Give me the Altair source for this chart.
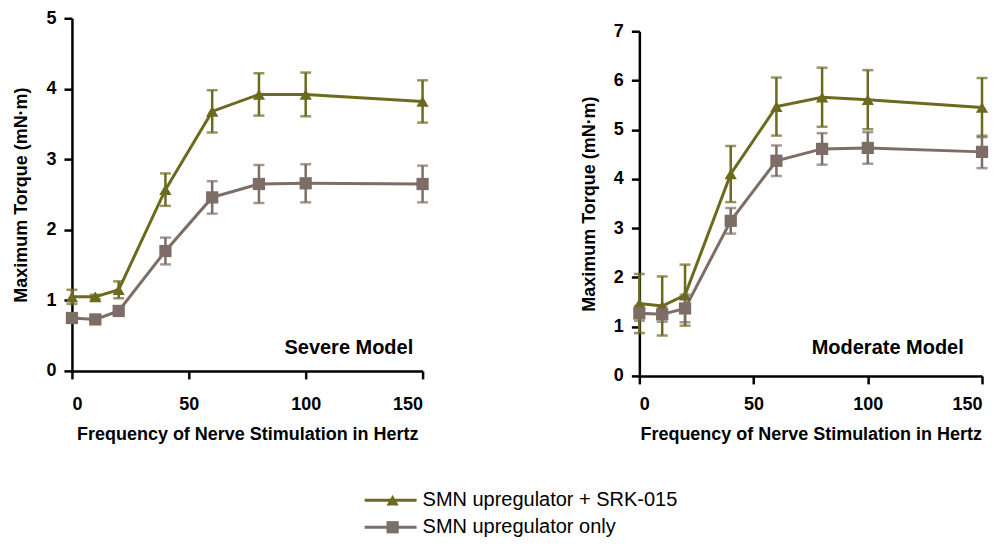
import altair as alt
import pandas as pd

freq = [0, 10, 20, 40, 60, 80, 100, 150]
series = ["SMN upregulator + SRK-015", "SMN upregulator only"]
colors = ["#6b6a1f", "#7d6d67"]
shapes = ["triangle-up", "square"]

severe_combo = [1.05, 1.05, 1.15, 2.57, 3.68, 3.92, 3.92, 3.82]
severe_combo_err = [0.10, 0.03, 0.12, 0.23, 0.30, 0.30, 0.31, 0.30]
severe_only = [0.75, 0.73, 0.85, 1.70, 2.46, 2.65, 2.66, 2.65]
severe_only_err = [0.04, 0.03, 0.06, 0.19, 0.23, 0.27, 0.27, 0.26]

moderate_combo = [1.47, 1.42, 1.64, 4.10, 5.47, 5.66, 5.61, 5.45]
moderate_combo_err = [0.60, 0.60, 0.62, 0.57, 0.59, 0.60, 0.60, 0.60]
moderate_only = [1.27, 1.25, 1.37, 3.15, 4.37, 4.61, 4.63, 4.55]
moderate_only_err = [0.15, 0.15, 0.28, 0.26, 0.31, 0.32, 0.32, 0.33]

panel_labels = ["Severe Model", "Moderate Model"]
label_x = [146, 142]
label_y = [0.24, 0.45]

x_title = "Frequency of Nerve Stimulation in Hertz"
y_title = "Maximum Torque (mN·m)"
FONT = "Liberation Sans"


def make_df(combo, combo_err, only, only_err):
    rows = []
    for s, vals, errs in [(series[0], combo, combo_err), (series[1], only, only_err)]:
        for f, v, e in zip(freq, vals, errs):
            rows.append({"freq": f, "val": v, "lo": v - e, "hi": v + e, "series": s})
    return pd.DataFrame(rows)


color = alt.Color("series:N", scale=alt.Scale(domain=series, range=colors), legend=None)
shape = alt.Shape("series:N", scale=alt.Scale(domain=series, range=shapes), legend=None)


def panel(df, ymax, idx, w, h, top_gap, xlabpad):
    xenc = alt.X("freq:Q", scale=alt.Scale(domain=[0, 150], nice=False),
                 axis=alt.Axis(values=[0, 50, 100, 150], title=x_title, labelPadding=xlabpad,
                               titlePadding=12, format="d"))
    yaxis = alt.Axis(values=list(range(ymax + 1)), title=y_title, labelPadding=8,
                     titlePadding=15, format="d")
    yscale = alt.Scale(domain=[0, ymax], nice=False, range=[h, top_gap])
    yenc = alt.Y("val:Q", scale=yscale, axis=yaxis)
    base = alt.Chart(df)
    err = base.mark_errorbar(ticks={"size": 11, "thickness": 2.5}, thickness=2.5).encode(
        x=xenc, y=alt.Y("lo:Q", scale=yscale, axis=yaxis), y2="hi:Q", color=color)
    line = base.mark_line(strokeWidth=3).encode(x=xenc, y=yenc, color=color)
    pts = base.mark_point(filled=True, opacity=1, size=150).encode(
        x=xenc, y=yenc, color=color, shape=shape)
    lab_df = pd.DataFrame({"freq": [label_x[idx]], "val": [label_y[idx]], "t": [panel_labels[idx]]})
    lab = alt.Chart(lab_df).mark_text(align="right", baseline="alphabetic", fontSize=20,
                                      fontWeight="bold", font=FONT, color="black").encode(
        x="freq:Q", y="val:Q", text="t:N")
    return alt.layer(err, line, pts, lab).properties(width=w, height=h)


left = panel(make_df(severe_combo, severe_combo_err, severe_only, severe_only_err), 5, 0, 351, 353, 0, 17)
right = panel(make_df(moderate_combo, moderate_combo_err, moderate_only, moderate_only_err), 7, 1, 343, 358, 13, 12)

top = alt.hconcat(left, right, spacing=150)

leg_df = pd.DataFrame({"series": series})
ly = alt.Y("series:N", scale=alt.Scale(type="point", domain=series, padding=0.5), axis=None)
leg_base = alt.Chart(leg_df)
leg_rule = leg_base.mark_rule(strokeWidth=3).encode(x=alt.value(293), x2=alt.value(345), y=ly, color=color)
leg_pts = leg_base.mark_point(filled=True, opacity=1, size=150).encode(x=alt.value(321), y=ly, color=color, shape=shape)
leg_txt = leg_base.mark_text(align="left", baseline="middle", fontSize=20, font=FONT, color="black").encode(
    x=alt.value(351), y=ly, text="series:N")
legend = alt.layer(leg_rule, leg_pts, leg_txt).properties(width=640, height=54)

chart = alt.vconcat(top, legend, spacing=43).properties(
    padding={"left": 4, "top": 1, "right": 0, "bottom": 0}
).configure(font=FONT).configure_view(stroke=None).configure_axis(
    grid=False, domainColor="black", domainWidth=2.5, tickColor="black", tickWidth=2.5,
    tickSize=8, labelColor="black", labelFont=FONT, labelFontSize=18, labelFontWeight="bold",
    titleColor="black", titleFont=FONT, titleFontSize=18, titleFontWeight="bold"
)

chart.save("out.html", embed_options={"renderer": "svg", "actions": False})
